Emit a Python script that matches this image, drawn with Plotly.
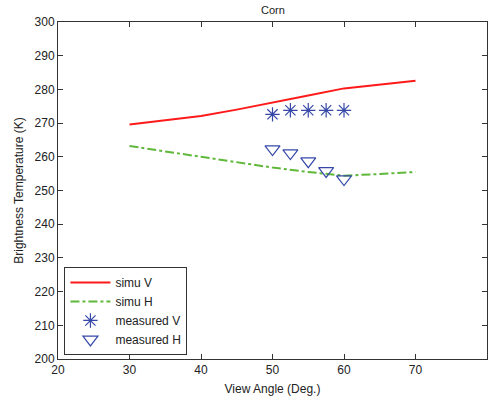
import plotly.graph_objects as go

# Simulated brightness temperatures over view angle
sim_angle = [30, 35, 40, 45, 50, 55, 60, 65, 70]
simu_v = [269.6, 270.8, 272.1, 274.0, 276.0, 278.2, 280.3, 281.5, 282.6]
simu_h = [263.2, 261.6, 260.1, 258.4, 256.8, 255.5, 254.4, 254.9, 255.5]

# Measured brightness temperatures
meas_angle = [50, 52.5, 55, 57.5, 60]
meas_v = [272.6, 273.8, 273.8, 273.8, 273.8]
meas_h = [262.3, 261.1, 258.7, 255.8, 253.4]

font = "Liberation Sans, Arial, sans-serif"
blue = "#3548a8"

fig = go.Figure()
fig.add_trace(go.Scatter(x=sim_angle, y=simu_v, mode="lines", name="simu V",
                         line=dict(color="#ff1a1a", width=2)))
fig.add_trace(go.Scatter(x=sim_angle, y=simu_h, mode="lines", name="simu H",
                         line=dict(color="#5fb83a", width=2, dash="dashdot")))
fig.add_trace(go.Scatter(x=meas_angle, y=meas_v, mode="markers", name="measured V",
                         marker=dict(symbol="asterisk-open", size=12, color=blue,
                                     line=dict(color=blue, width=1.2))))
fig.add_trace(go.Scatter(x=meas_angle, y=meas_h, mode="markers", name="measured H",
                         marker=dict(symbol="triangle-down-open", size=13, color=blue,
                                     line=dict(color=blue, width=1.2))))

axis_common = dict(showline=True, linecolor="#333", linewidth=1, mirror="ticks",
                   ticks="inside", ticklen=5, tickcolor="#333", showgrid=False,
                   zeroline=False, tickfont=dict(family=font, size=12, color="#222"))

fig.update_layout(
    width=490, height=400,
    margin=dict(l=58, r=3, t=22, b=41),
    paper_bgcolor="white", plot_bgcolor="white",
    title=dict(text="Corn", x=0.557, xanchor="center", y=0.985, yanchor="top",
               font=dict(family=font, size=11, color="#222")),
    xaxis=dict(range=[20, 80], tickvals=[20, 30, 40, 50, 60, 70, 80],
               title=dict(text="View Angle (Deg.)", standoff=8,
                          font=dict(family=font, size=12, color="#222")),
               **axis_common),
    yaxis=dict(range=[200, 300], tickvals=list(range(200, 301, 10)),
               title=dict(text="Brightness Temperature (K)", standoff=8,
                          font=dict(family=font, size=12, color="#222")),
               **axis_common),
    legend=dict(x=0.015, y=0.012, xanchor="left", yanchor="bottom",
                bgcolor="white", bordercolor="#333", borderwidth=1,
                font=dict(family=font, size=12, color="#222"),
                tracegroupgap=0, itemwidth=40),
    showlegend=True,
)

fig.write_html("out.html")
